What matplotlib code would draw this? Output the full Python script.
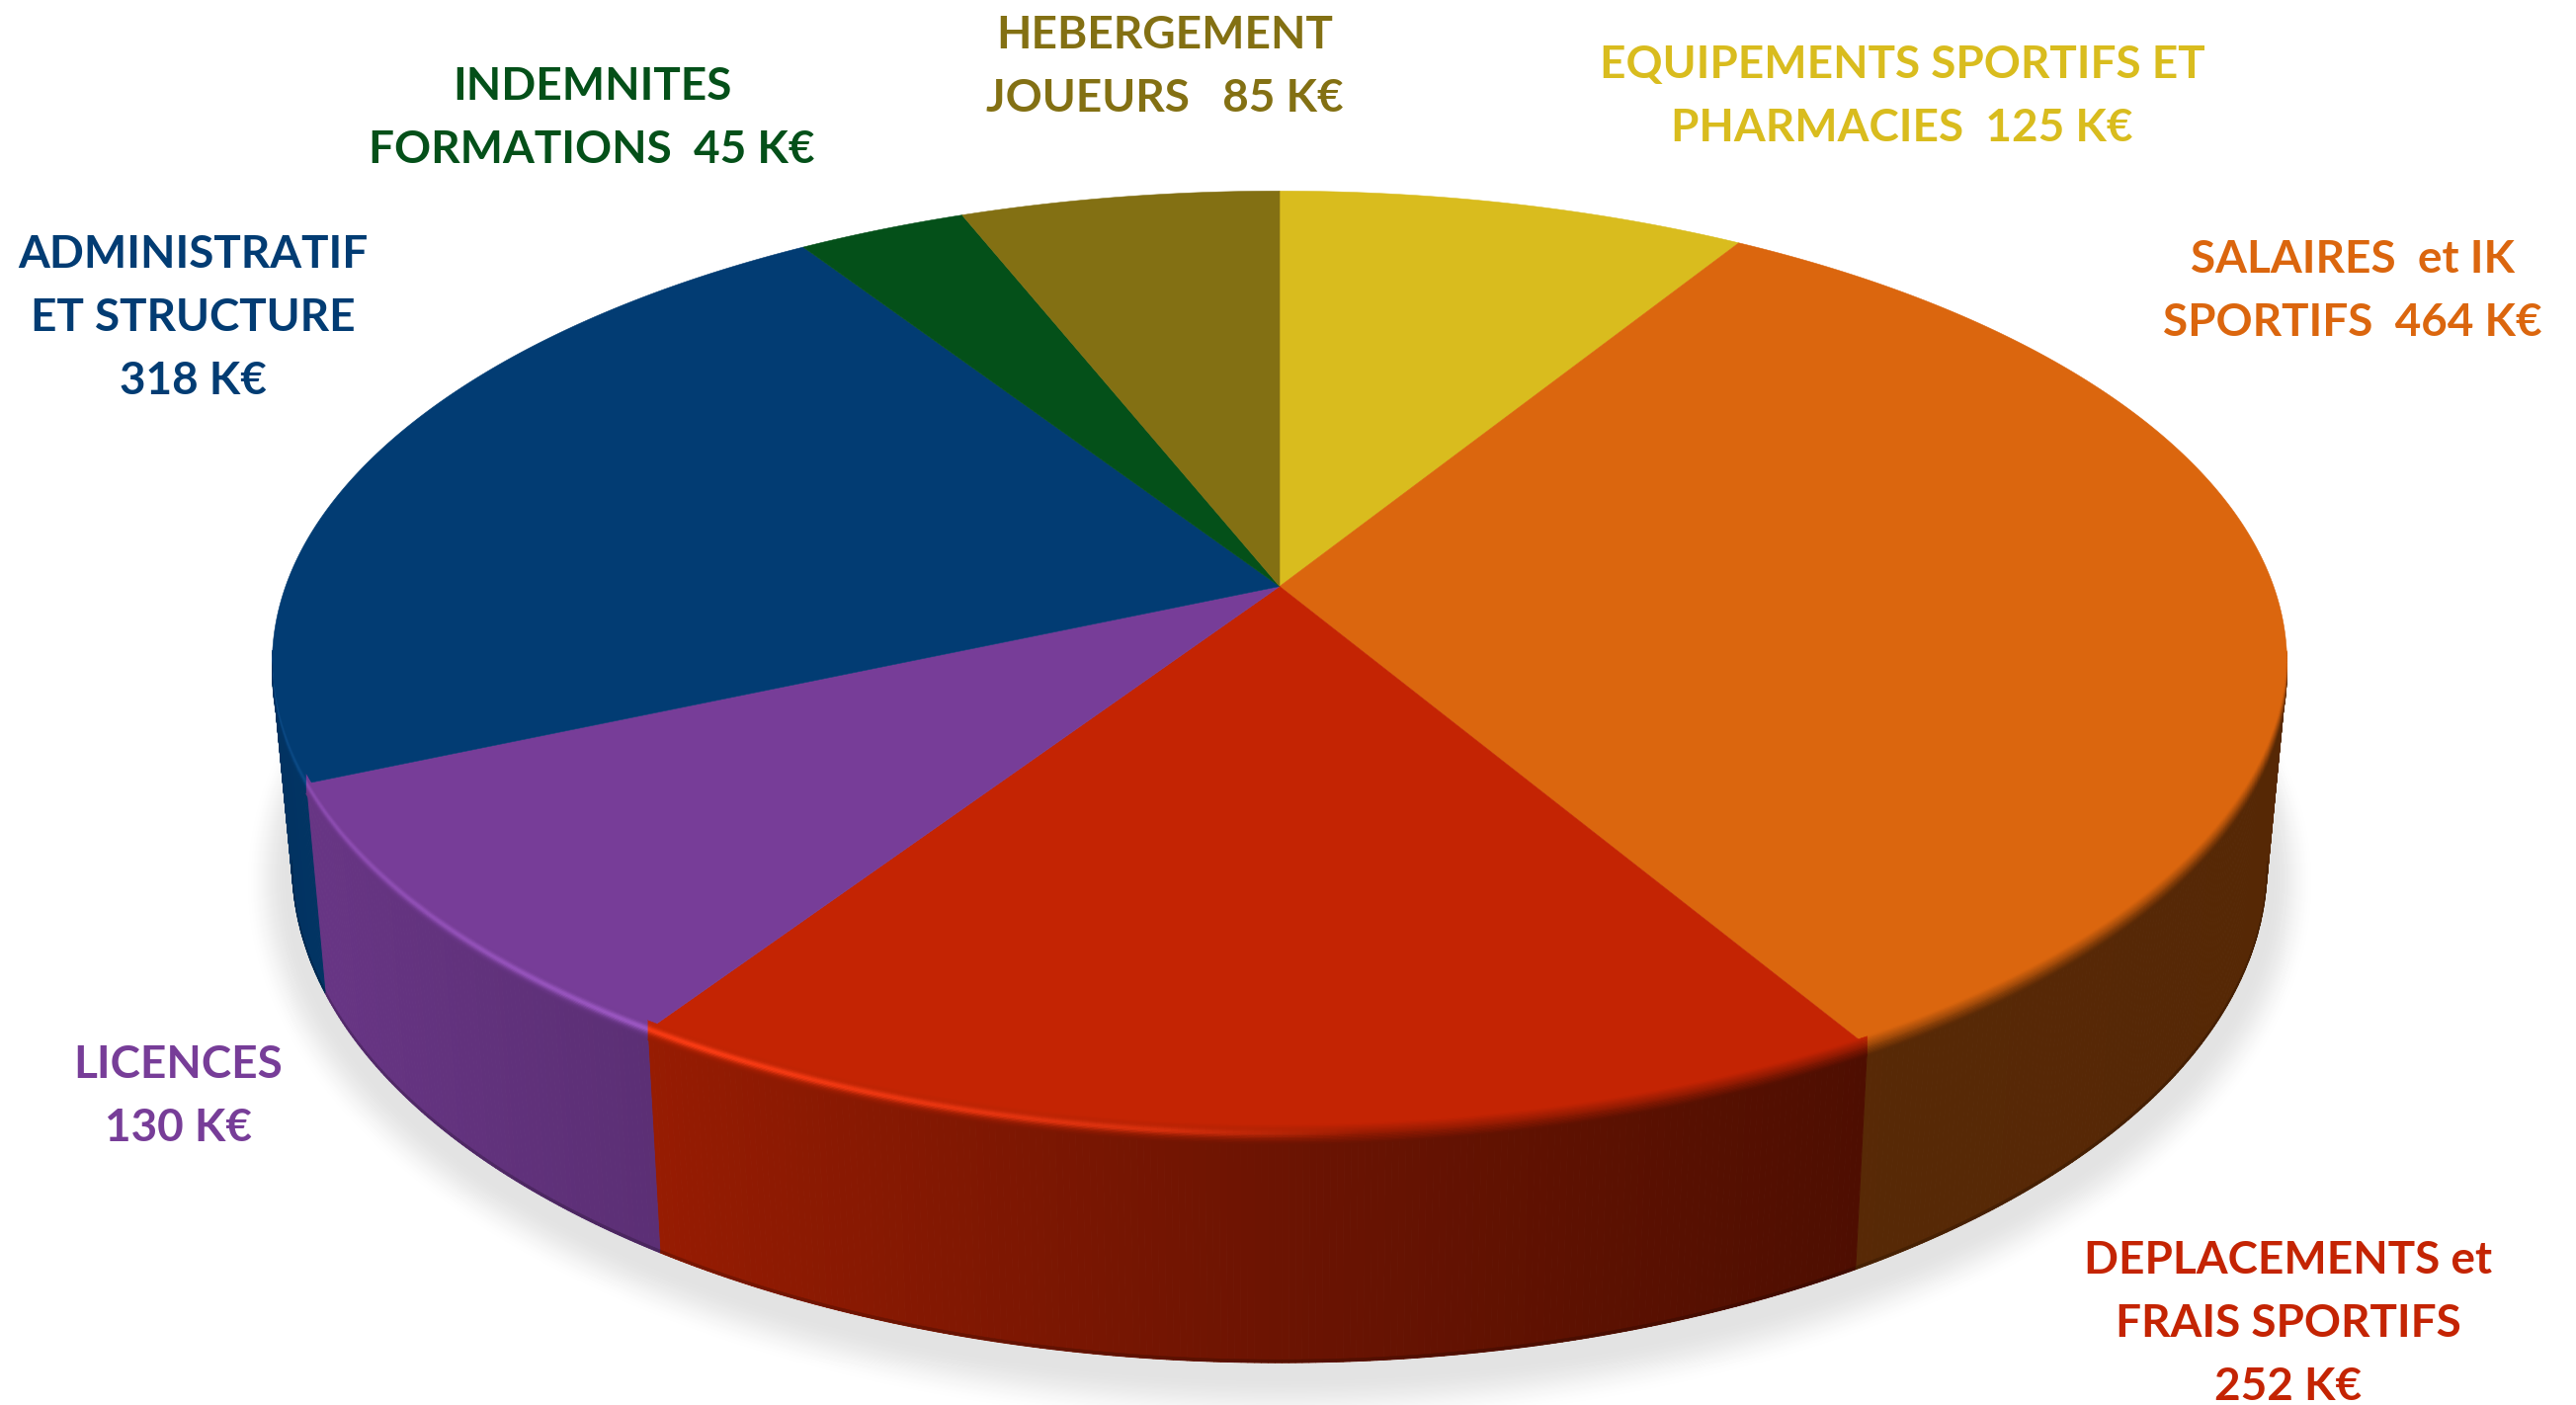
import numpy as np
import matplotlib
matplotlib.use("Agg")
import matplotlib.pyplot as plt
from matplotlib.collections import PolyCollection
from matplotlib.colors import to_rgb
from matplotlib.patches import Polygon

# ---- data (clockwise from 12 o'clock) ----
categories = ["EQUIPEMENTS", "SALAIRES", "DEPLACEMENTS", "LICENCES",
              "ADMINISTRATIF", "INDEMNITES", "HEBERGEMENT"]
values_keur = [125, 464, 252, 130, 318, 45, 85]
label_lines = [
    "EQUIPEMENTS SPORTIFS ET\nPHARMACIES  125 K€",
    "SALAIRES  et IK\nSPORTIFS  464 K€",
    "DEPLACEMENTS et\nFRAIS SPORTIFS\n252 K€",
    "LICENCES\n130 K€",
    "ADMINISTRATIF\nET STRUCTURE\n318 K€",
    "INDEMNITES\nFORMATIONS  45 K€",
    "HEBERGEMENT\nJOUEURS   85 K€",
]

# ---- style ----
colors = ["#D9BC1E", "#DB660E", "#C42403", "#773D98", "#023C73", "#045019", "#837013"]
label_centers = [(1925, 98), (2381, 295), (2316, 1340), (180, 1110),
                 (195, 322), (599, 120), (1179, 68)]
plt.rcParams["font.family"] = ["Lato", "DejaVu Sans"]
FONT_PT = 33
LINE_SPACING = 1.64

W, H = 2607, 1422
CX, CY = 1295.0, 593.5
A, B, K = 1006.0, 465.0, 0.162        # top disc perspective
A2, B2, CY2 = 986.0, 489.5, 795.0      # bottom disc perspective


def top_pt(th, r=1.0):
    x, y = r * np.sin(th), r * np.cos(th)
    d = 1 + K * y
    return CX + A * x / d, CY - B * y / d


def bot_pt(th, grow=0.0, dy=0.0):
    x, y = np.sin(th), np.cos(th)
    d = 1 + K * y
    return CX + (A2 + grow) * x / d, CY2 + dy - (B2 + grow) * y / d


def side_factor(x):
    return np.interp(x, [-1, -.9, -.55, 0, .5, 1], [.84, .87, .77, .55, .40, .39])


fig = plt.figure(figsize=(W / 100, H / 100), dpi=100, facecolor="white")
ax = fig.add_axes([0, 0, 1, 1])
ax.set_xlim(0, W)
ax.set_ylim(H, 0)
ax.axis("off")

# soft ground shadow
full = np.radians(np.linspace(0, 360, 361))
N = 45
for i in range(N):
    t = i / (N - 1)
    s = t * t * (3 - 2 * t)
    g = 1 - s * (1 - 0xE3 / 255)
    gx, gy = bot_pt(full, grow=48 - 44 * t, dy=10)
    ax.add_patch(Polygon(np.c_[gx, gy], closed=True, fc=(g, g, g), ec="none", zorder=1))

# slice angles from the values
vals = np.array(values_keur, float)
edges = np.r_[0, np.cumsum(vals)] / vals.sum() * 2 * np.pi

# side wall
polys, cols = [], []
bevel_polys, bevel_cols = [], []
offsets = np.linspace(-10, 10, 15)
for c, a0, a1 in zip(colors, edges[:-1], edges[1:]):
    base = np.array(to_rgb(c))
    hi_col = np.clip(base * 1.2 + 0.07, 0, 1)
    n = max(2, int(np.degrees(a1 - a0) * 3))
    ths = np.linspace(a0, a1, n + 1)
    for t0, t1 in zip(ths[:-1], ths[1:]):
        tm = (t0 + t1) / 2
        xm, ym = np.sin(tm), np.cos(tm)
        if ym > -K + 0.004:
            continue
        p0, p1 = top_pt(t0), top_pt(t1)
        q0, q1 = bot_pt(t0), bot_pt(t1)
        polys.append([p0, p1, q1, q0])
        side = base * side_factor(xm)
        cols.append(side)
        # rim: soft transition from top face to wall, with a highlight on the lit side
        h = np.interp(xm, [-1, -.5, -.1, .07], [.5, 1, .6, 0])
        for d0, d1 in zip(offsets[:-1], offsets[1:]):
            dm = (d0 + d1) / 2
            w = (dm - offsets[0]) / (offsets[-1] - offsets[0])
            col = base * (1 - w) + side * w
            bump = np.exp(-((dm + 1.0) / 4.0) ** 2) * h
            col = col * (1 - bump) + hi_col * bump
            bevel_polys.append([(p0[0], p0[1] + d0), (p1[0], p1[1] + d0),
                                (p1[0], p1[1] + d1), (p0[0], p0[1] + d1)])
            bevel_cols.append(col)

pc = PolyCollection(polys, facecolors=cols, edgecolors=cols, linewidths=0.7, zorder=2)
ax.add_collection(pc)

# thin dark lip on the lower edge of the wall
lip_polys, lip_cols = [], []
for p, col in zip(polys, cols):
    q1, q0 = p[2], p[3]
    lip_polys.append([(q0[0], q0[1] - 3), (q1[0], q1[1] - 3), q1, q0])
    lip_cols.append(np.array(col) * 0.8)
ax.add_collection(PolyCollection(lip_polys, facecolors=lip_cols, edgecolors=lip_cols,
                                 linewidths=0.3, zorder=2.5))

# top face
for c, a0, a1 in zip(colors, edges[:-1], edges[1:]):
    th = np.linspace(a0, a1, max(3, int(np.degrees(a1 - a0) * 2)))
    px, py = top_pt(th)
    pts = np.r_[[[CX, CY]], np.c_[px, py]]
    ax.add_patch(Polygon(pts, closed=True, fc=c, ec=c, lw=0.4, zorder=3))

ax.add_collection(PolyCollection(bevel_polys, facecolors=bevel_cols, edgecolors=bevel_cols,
                                 linewidths=0.3, zorder=4))

# labels
for txt, c, (lx, ly) in zip(label_lines, colors, label_centers):
    ax.text(lx, ly, txt, color=c, fontsize=FONT_PT, fontweight="bold", ha="center",
            va="center", multialignment="center", linespacing=LINE_SPACING, zorder=5)

fig.savefig("out.png", dpi=100, facecolor="white")
